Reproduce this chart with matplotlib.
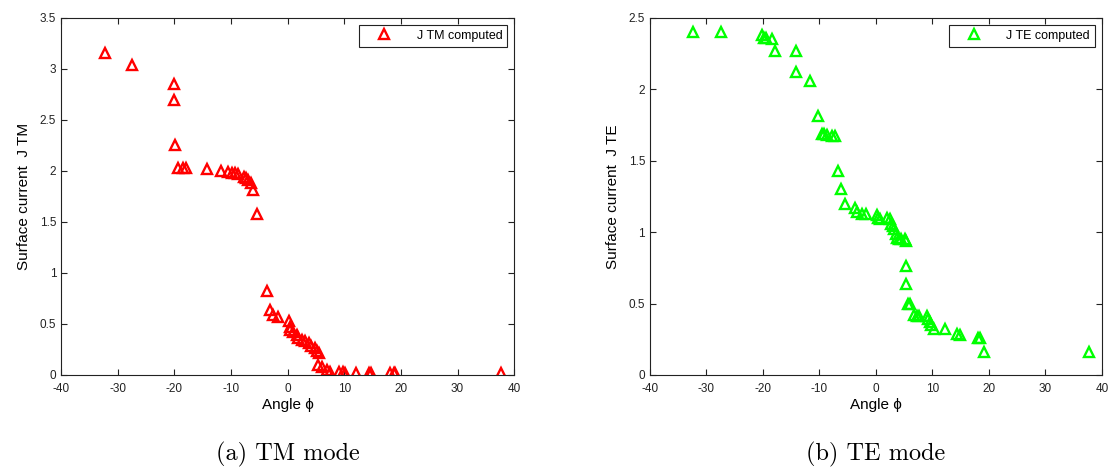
import matplotlib
matplotlib.use("Agg")
import matplotlib.pyplot as plt
from matplotlib.ticker import FormatStrFormatter

# TM mode data (angle in degrees, surface current)
tm_angle = [-32.3, -27.4, -20.0, -20.1, -19.8, -19.3, -18.5, -17.9, -14.2, -11.8,
            -10.5, -9.9, -9.3, -8.7, -7.7, -7.3, -7.0, -6.5, -6.1, -5.4,
            -3.6, -3.1, -2.5, -1.7, 0.2, 0.4, 0.5, 1.0, 1.6, 1.9,
            2.5, 3.1, 3.7, 4.2, 4.8, 5.2, 5.6, 5.4, 6.0, 6.9,
            7.5, 9.1, 9.7, 10.1, 12.1, 14.3, 14.7, 18.1, 18.7, 19.0, 37.7]
tm_current = [3.16, 3.04, 2.85, 2.70, 2.25, 2.03, 2.03, 2.03, 2.02, 2.00,
              1.99, 1.98, 1.98, 1.97, 1.94, 1.93, 1.91, 1.88, 1.81, 1.58,
              0.82, 0.64, 0.59, 0.57, 0.53, 0.47, 0.44, 0.42, 0.39, 0.36,
              0.34, 0.33, 0.31, 0.28, 0.26, 0.23, 0.21, 0.10, 0.08, 0.05,
              0.03, 0.03, 0.03, 0.02, 0.02, 0.02, 0.02, 0.02, 0.02, 0.02, 0.02]

# TE mode data
te_angle = [-32.4, -27.4, -20.1, -19.8, -19.4, -18.4, -17.9, -14.2, -14.1, -11.7,
            -10.3, -9.6, -9.2, -8.7, -7.7, -7.3, -6.8, -6.1, -5.5, -3.7,
            -3.3, -2.5, -1.7, 0.2, 0.4, 0.8, 1.9, 2.4, 2.6, 3.0,
            3.2, 3.5, 3.7, 4.0, 4.4, 5.1, 5.4, 5.3, 5.4, 5.6,
            6.0, 6.7, 7.2, 7.7, 9.0, 9.3, 9.5, 9.7, 10.2, 12.2,
            14.3, 14.8, 18.0, 18.4, 19.1, 37.7]
te_current = [2.40, 2.40, 2.38, 2.36, 2.36, 2.35, 2.27, 2.27, 2.12, 2.06,
              1.81, 1.69, 1.69, 1.68, 1.67, 1.67, 1.43, 1.30, 1.20, 1.17,
              1.14, 1.13, 1.13, 1.12, 1.10, 1.09, 1.10, 1.09, 1.06, 1.04,
              1.02, 0.99, 0.96, 0.95, 0.95, 0.95, 0.94, 0.76, 0.64, 0.50,
              0.50, 0.42, 0.41, 0.41, 0.41, 0.39, 0.37, 0.35, 0.32, 0.32,
              0.29, 0.28, 0.26, 0.26, 0.16, 0.16]

plt.rcParams['font.family'] = ['Liberation Sans', 'DejaVu Sans']
plt.rcParams['axes.unicode_minus'] = False

fig = plt.figure(figsize=(11.16, 4.71), dpi=100)
ax1 = fig.add_axes([0.0547, 0.204, 0.406, 0.758])
ax2 = fig.add_axes([0.5824, 0.204, 0.405, 0.758])


def style_axis(ax, ymax, ystep, ylabel):
    ax.set_xlim(-40, 40)
    ax.set_ylim(0, ymax)
    ax.set_xticks(range(-40, 41, 10))
    ax.set_yticks([i * ystep for i in range(int(round(ymax / ystep)) + 1)])
    ax.yaxis.set_major_formatter(FormatStrFormatter('%g'))
    ax.tick_params(direction='in', top=True, right=True, length=4,
                   labelsize=8.5, colors='#222222', width=0.8)
    ax.tick_params(axis='x', pad=6)
    for s in ax.spines.values():
        s.set_linewidth(0.8)
        s.set_color('#222222')
    ax.set_xlabel('Angle \u03d5', fontsize=11, labelpad=2)
    ax.set_ylabel(ylabel, fontsize=11, labelpad=6)


ax1.plot(tm_angle, tm_current, linestyle='none', marker='^', markersize=6.5,
         markerfacecolor='none', markeredgecolor=(1, 0, 0), markeredgewidth=1.7,
         label='J TM computed')
style_axis(ax1, 3.5, 0.5, 'Surface current  J TM')

ax2.plot(te_angle, te_current, linestyle='none', marker='^', markersize=6.5,
         markerfacecolor='none', markeredgecolor=(0, 1, 0), markeredgewidth=1.7,
         label='J TE computed')
style_axis(ax2, 2.5, 0.5, 'Surface current  J TE')

for ax in (ax1, ax2):
    leg = ax.legend(loc='upper right', fontsize=9, fancybox=False,
                    framealpha=1, edgecolor='#222222', handlelength=3.2,
                    handletextpad=1.0, borderaxespad=0.55)
    leg.get_frame().set_linewidth(0.8)

fig.text(0.0547 + 0.203, 0.035, '(a) TM mode', ha='center', va='center',
         fontsize=17.5, family='cmr10')
fig.text(0.5824 + 0.2025, 0.035, '(b) TE mode', ha='center', va='center',
         fontsize=17.5, family='cmr10')

fig.savefig('out.png', dpi=100)
